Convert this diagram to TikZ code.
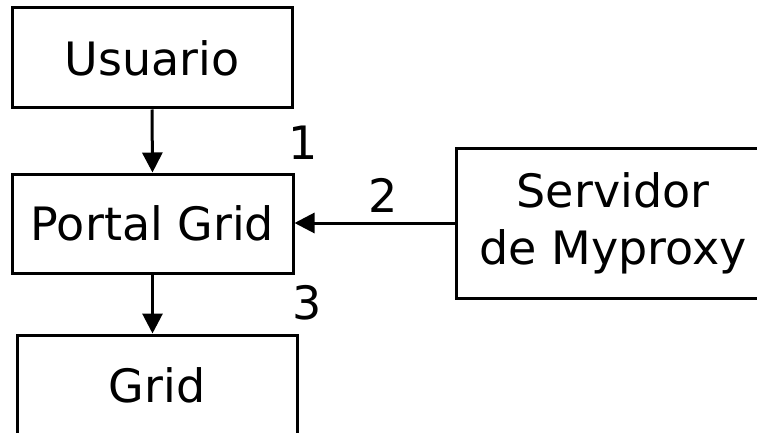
\documentclass[tikz,border=0pt]{standalone}
\usepackage{fontspec}
\setmainfont{DejaVu Sans}
\usetikzlibrary{arrows.meta}
\tikzset{
  box/.style={draw=black, line width=3pt, fill=white, inner sep=0pt,
    align=center, font=\fontsize{46}{57}\selectfont},
  flow/.style={draw=black, line width=3pt,
    -{Triangle[length=20pt,width=20pt]}},
  tag/.style={inner sep=0pt, font=\fontsize{46}{57}\selectfont},
}
\begin{document}
\begin{tikzpicture}[x=1pt,y=-1pt]
  \useasboundingbox (0,0) rectangle (757,433);
  \clip (0,0) rectangle (757,433);
  \fill[white] (0,0) rectangle (757,433);

  % boxes
  \node[box, minimum width=280pt, minimum height=100pt] (usuario) at (152,58) {Usuario};
  \node[box, minimum width=281pt, minimum height=99pt] (portal) at (152.5,223.5) {Portal Grid};
  \node[box, minimum width=280pt, minimum height=100pt] (grid) at (157,385) {Grid};
  \node[box, minimum width=314pt, minimum height=150pt] (servidor) at (613,223) {Servidor\\de Myproxy};

  % connectors
  \draw[flow] (usuario.south) -- (portal.north);
  \draw[flow] (portal.south) -- (portal.south |- grid.north);
  \draw[flow] (servidor.west) -- (servidor.west -| portal.east);

  % step numbers
  \node[tag] (n1) at (303,143) {1};
  \node[tag] (n2) at (383,195) {2};
  \node[tag] (n3) at (307,303) {3};
\end{tikzpicture}
\end{document}
